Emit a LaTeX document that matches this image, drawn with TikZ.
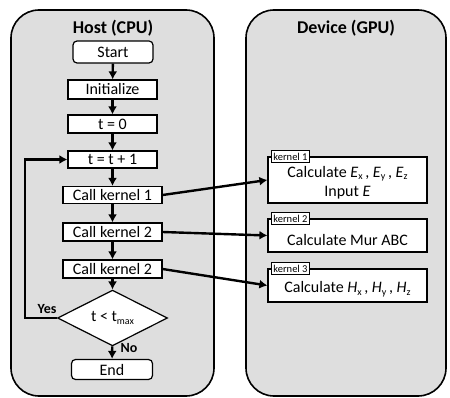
\documentclass[tikz,border=0pt]{standalone}
\usepackage{fontspec}
\setmainfont{Carlito}
\usetikzlibrary{shapes.geometric,arrows.meta}
\newcommand{\lowsub}[1]{\raisebox{-0.35ex}{\fontsize{10}{10}\selectfont #1}}
\begin{document}
\begin{tikzpicture}[x=1pt,y=-1pt,
  panel/.style={draw=black,line width=1.6pt,fill=black!13,rounded corners=28pt},
  ptitle/.style={font=\fontsize{18}{18}\selectfont\bfseries,inner sep=0pt},
  box/.style={draw=black,line width=1.2pt,fill=white,inner sep=0pt,font=\fontsize{16}{16}\selectfont},
  rbox/.style={box,rounded corners=4pt},
  kbox/.style={draw=black,line width=1.2pt,fill=white,inner sep=0pt},
  ktext/.style={inner sep=0pt,font=\fontsize{16}{19}\selectfont,align=center},
  ktab/.style={draw=black,line width=1pt,fill=white,inner xsep=1.5pt,inner ysep=0pt,minimum height=12pt,font=\fontsize{10.5}{10.5}\selectfont},
  dec/.style={diamond,draw=black,line width=1.2pt,fill=white,inner sep=0pt,minimum width=110pt,minimum height=40pt,font=\fontsize{16}{16}\selectfont},
  arr/.style={line width=2.4pt,-{Latex[length=8pt,width=9pt]}},
  lbl/.style={inner sep=0pt,font=\fontsize{14}{14}\selectfont\bfseries}
]
\useasboundingbox (0,0) rectangle (450,398);
% panels
\draw[panel] (11,10) rectangle (214,396);
\draw[panel] (246,10) rectangle (446,396);
\node[ptitle] (htitle) at (113,28) {Host (CPU)};
\node[ptitle] (dtitle) at (346,28) {Device (GPU)};
% host flow
\node[rbox,minimum width=80pt,minimum height=22pt] (start) at (113,52) {Start};
\node[box,minimum width=89pt,minimum height=19pt] (init) at (112.5,89.5) {Initialize};
\node[box,minimum width=89pt,minimum height=18pt] (tzero) at (112.5,124) {t = 0};
\node[box,minimum width=89pt,minimum height=17pt] (tinc) at (112.5,159.5) {t = t + 1};
\node[box,minimum width=99pt,minimum height=17pt] (ck1) at (112.5,195) {Call kernel 1};
\node[box,minimum width=99pt,minimum height=18pt] (ck2) at (112.5,232) {Call kernel 2};
\node[box,minimum width=99pt,minimum height=18pt] (ck3) at (112.5,269) {Call kernel 2};
\node[dec] (cond) at (112.5,318) {t < t\lowsub{max}};
\node[rbox,minimum width=81pt,minimum height=20pt] (end) at (112,369.5) {End};
\draw[arr] (start) -- (init);
\draw[arr] (init) -- (tzero);
\draw[arr] (tzero) -- (tinc);
\draw[arr] (tinc) -- (ck1);
\draw[arr] (ck1) -- (ck2);
\draw[arr] (ck2) -- (ck3);
\draw[arr] (ck3) -- (cond);
\draw[arr] (cond) -- (end);
\coordinate (loopx) at (25,0);
\draw[arr] (cond.west) -- (cond.west -| loopx) |- (tinc.west);
\node[lbl] (yes) at (47,309) {Yes};
\node[lbl] (no) at (129,348) {No};
% device kernels
\node[kbox,minimum width=159pt,minimum height=46pt] (k1) at (347.5,180) {};
\node[ktext] (k1t) at (347.5,182.5) {Calculate \textit{E}\lowsub{x}\,, \textit{E}\lowsub{y}\,, \textit{E}\lowsub{z}\\Input \textit{E}};
\node[ktab,anchor=west] (k1tab) at ([xshift=4pt]k1.north west) {kernel 1};
\node[kbox,minimum width=159pt,minimum height=33pt] (k2) at (347.5,235.5) {};
\node[ktext] (k2t) at (347.5,240) {Calculate Mur ABC};
\node[ktab,anchor=west] (k2tab) at ([xshift=4pt]k2.north west) {kernel 2};
\node[kbox,minimum width=159pt,minimum height=33pt] (k3) at (347.5,285.5) {};
\node[ktext] (k3t) at (347.5,289) {Calculate \textit{H}\lowsub{x}\,, \textit{H}\lowsub{y}\,, \textit{H}\lowsub{z}};
\node[ktab,anchor=west] (k3tab) at ([xshift=4pt]k3.north west) {kernel 3};
% calls
\draw[arr] (ck1.east) -- (k1.west);
\draw[arr] (ck2.east) -- (k2.west);
\draw[arr] (ck3.east) -- (k3.west);
\end{tikzpicture}
\end{document}
